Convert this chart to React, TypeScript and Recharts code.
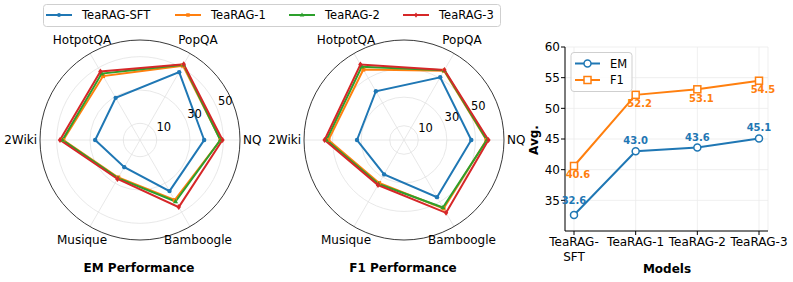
import {
  RadarChart,
  PolarGrid,
  PolarAngleAxis,
  PolarRadiusAxis,
  Radar,
  LineChart,
  Line,
  XAxis,
  YAxis,
  CartesianGrid,
} from "recharts";

const BLUE = "#1f77b4";
const ORANGE = "#ff7f0e";
const GREEN = "#2ca02c";
const RED = "#d62728";

const datasets = ["NQ", "PopQA", "HotpotQA", "2Wiki", "Musique", "Bamboogle"];
const models = ["TeaRAG-SFT", "TeaRAG-1", "TeaRAG-2", "TeaRAG-3"];
const modelTicks = ["TeaRAG-\nSFT", "TeaRAG-1", "TeaRAG-2", "TeaRAG-3"];

// EM per dataset
const emSft = [38.5, 47.0, 29.2, 26.9, 18.8, 35.4];
const emR1 = [48.3, 51.5, 44.3, 46.0, 26.0, 41.6];
const emR2 = [48.2, 52.2, 46.0, 46.5, 26.4, 42.6];
const emR3 = [49.5, 52.5, 47.5, 48.0, 27.0, 46.5];

// F1 per dataset
const f1Sft = [47.1, 50.7, 39.4, 32.9, 27.8, 46.2];
const f1R1 = [57.7, 56.0, 56.9, 52.9, 34.8, 55.4];
const f1R2 = [58.0, 56.3, 59.2, 54.3, 35.6, 54.5];
const f1R3 = [59.1, 56.6, 61.0, 55.6, 36.4, 58.9];

// averages
const avgEm = [32.6, 43.0, 43.6, 45.1];
const avgF1 = [40.6, 52.2, 53.1, 54.5];

const radarTicks = [10, 30, 50];

const keys = ["sft", "r1", "r2", "r3"];
const colors = [BLUE, ORANGE, GREEN, RED];
const markers = ["circle", "square", "triangle", "diamond"];

const emRows = datasets.map((name, i) => ({
  name,
  sft: emSft[i],
  r1: emR1[i],
  r2: emR2[i],
  r3: emR3[i],
}));

const f1Rows = datasets.map((name, i) => ({
  name,
  sft: f1Sft[i],
  r1: f1R1[i],
  r2: f1R2[i],
  r3: f1R3[i],
}));

const avgRows = models.map((model, i) => ({
  model: modelTicks[i],
  em: avgEm[i],
  f1: avgF1[i],
}));

function Marker({ kind, x, y, color, s = 4 }: any) {
  if (kind === "circle") return <circle cx={x} cy={y} r={s * 0.55} fill={color} />;
  if (kind === "square")
    return <rect x={x - s / 2} y={y - s / 2} width={s} height={s} fill={color} />;
  if (kind === "triangle")
    return (
      <polygon
        points={`${x},${y - s * 0.7} ${x - s * 0.65},${y + s * 0.45} ${x + s * 0.65},${y + s * 0.45}`}
        fill={color}
      />
    );
  return (
    <polygon
      points={`${x},${y - s * 0.75} ${x + s * 0.55},${y} ${x},${y + s * 0.75} ${x - s * 0.55},${y}`}
      fill={color}
    />
  );
}

const R = 100;
const CX = 140;
const CY = 140;

// category labels follow the data order, counter-clockwise from 3 o'clock
function angleTick(props: any) {
  const { payload } = props;
  const idx = datasets.indexOf(payload.value);
  const a = (idx * 2 * Math.PI) / datasets.length;
  const c = Math.cos(a);
  const s = -Math.sin(a);
  if (Math.abs(c) > 0.99) {
    return (
      <text
        x={CX + c * (R + 3)}
        y={CY}
        textAnchor={c > 0 ? "start" : "end"}
        dominantBaseline="central"
        fontSize={12}
        fill="#000"
      >
        {payload.value}
      </text>
    );
  }
  return (
    <text
      x={CX + c * (R + 16)}
      y={CY + s * (R + 16)}
      textAnchor="middle"
      dominantBaseline="central"
      fontSize={12}
      fill="#000"
    >
      {payload.value}
    </text>
  );
}

function radiusTick(props: any) {
  const { x, y, payload } = props;
  if (!radarTicks.includes(payload.value)) return <g />;
  return (
    <text x={x + 1} y={y - 3} textAnchor="start" fontSize={11.5} fill="#000">
      {payload.value}
    </text>
  );
}

function PerfRadar({ rows, max, left }: any) {
  return (
    <div style={{ position: "absolute", left, top: 0 }}>
      <RadarChart
        width={280}
        height={282}
        data={rows}
        cx={CX}
        cy={CY}
        outerRadius={R}
        startAngle={-60}
        endAngle={300}
        margin={{ top: 0, right: 0, bottom: 0, left: 0 }}
      >
        <PolarGrid
          gridType="circle"
          polarRadius={radarTicks.map((v) => (v / max) * R)}
          stroke="#e2e2e2"
          strokeWidth={0.8}
        />
        <PolarAngleAxis
          dataKey="name"
          axisLineType="circle"
          axisLine={{ stroke: "#222", strokeWidth: 0.9 }}
          tickLine={false}
          tick={angleTick}
        />
        <PolarRadiusAxis
          angle={22.5}
          domain={[0, max]}
          tickCount={max / 10 + 1}
          axisLine={false}
          tickLine={false}
          tick={radiusTick}
        />
        {keys.map((k, i) => (
          <Radar
            key={k}
            dataKey={k}
            stroke={colors[i]}
            strokeWidth={2}
            fill="none"
            fillOpacity={0}
            isAnimationActive={false}
            dot={(p: any) => (
              <Marker key={`${k}-${p.index}`} kind={markers[i]} x={p.cx} y={p.cy} color={colors[i]} />
            )}
          />
        ))}
      </RadarChart>
    </div>
  );
}

function ModelTick(props: any) {
  const { x, y, payload } = props;
  const lines = String(payload.value).split("\n");
  return (
    <text x={x} y={y + 9} textAnchor="middle" fontSize={12} fill="#000">
      {lines.map((l, i) => (
        <tspan key={i} x={x} dy={i === 0 ? 0 : 15}>
          {l}
        </tspan>
      ))}
    </text>
  );
}

function emLabel(p: any) {
  const off = p.index === 0 ? 14.5 : 10.5;
  return (
    <text
      key={`em-${p.index}`}
      x={p.x}
      y={p.y - off}
      textAnchor="middle"
      dominantBaseline="central"
      fontSize={10}
      fontWeight="bold"
      fill={BLUE}
    >
      {Number(p.value).toFixed(1)}
    </text>
  );
}

function f1Label(p: any) {
  return (
    <text
      key={`f1-${p.index}`}
      x={p.x + 4}
      y={p.y + 9}
      textAnchor="middle"
      dominantBaseline="central"
      fontSize={10}
      fontWeight="bold"
      fill={ORANGE}
    >
      {Number(p.value).toFixed(1)}
    </text>
  );
}

export default function App() {
  return (
    <div
      style={{
        position: "absolute",
        left: 0,
        top: 0,
        width: 793,
        height: 282,
        background: "#fff",
        fontFamily: "DejaVu Sans",
        overflow: "hidden",
      }}
    >
      <PerfRadar rows={emRows} max={60} left={0} />
      <PerfRadar rows={f1Rows} max={70} left={264} />

      <div style={{ position: "absolute", left: 530, top: 0 }}>
        <LineChart
          width={263}
          height={282}
          data={avgRows}
          margin={{ top: 47, right: 25, bottom: 21, left: 5 }}
        >
          <CartesianGrid stroke="#ebebeb" strokeWidth={0.8} />
          <XAxis
            dataKey="model"
            interval={0}
            padding={{ left: 9, right: 9 }}
            height={30}
            tickSize={4}
            stroke="#000"
            tick={ModelTick}
          />
          <YAxis
            domain={[30, 60]}
            ticks={[35, 40, 45, 50, 55, 60]}
            width={30}
            tickSize={4}
            tickMargin={1}
            stroke="#000"
            tick={{ fill: "#000", fontSize: 12 }}
          />
          <Line
            dataKey="em"
            stroke={BLUE}
            strokeWidth={2}
            isAnimationActive={false}
            dot={{ r: 3.5, fill: "#fff", stroke: BLUE, strokeWidth: 1.5 }}
            label={emLabel}
          />
          <Line
            dataKey="f1"
            stroke={ORANGE}
            strokeWidth={2}
            isAnimationActive={false}
            dot={(p: any) => (
              <rect
                key={`sq-${p.index}`}
                x={p.cx - 3.5}
                y={p.cy - 3.5}
                width={7}
                height={7}
                fill="#fff"
                stroke={ORANGE}
                strokeWidth={1.5}
              />
            )}
            label={f1Label}
          />
        </LineChart>
      </div>

      <svg
        width={793}
        height={282}
        style={{ position: "absolute", left: 0, top: 0, pointerEvents: "none" }}
      >
        <rect x={43.5} y={4.5} width={457} height={22} rx={3} fill="#fff" stroke="#cfcfcf" />
        {models.map((m, i) => {
          const lx = [46, 175, 289, 403][i];
          return (
            <g key={m}>
              <line x1={lx} x2={lx + 26} y1={15} y2={15} stroke={colors[i]} strokeWidth={2} />
              <Marker kind={markers[i]} x={lx + 13} y={15} color={colors[i]} s={3.5} />
              <text x={lx + 36} y={15} dominantBaseline="central" fontSize={11.5} fill="#000">
                {m}
              </text>
            </g>
          );
        })}

        <rect x={571} y={52.5} width={61} height={39} rx={3} fill="#fff" fillOpacity={0.85} stroke="#cfcfcf" />
        <line x1={575} x2={600} y1={63.5} y2={63.5} stroke={BLUE} strokeWidth={2} />
        <circle cx={587.5} cy={63.5} r={3.5} fill="#fff" stroke={BLUE} strokeWidth={1.5} />
        <text x={610} y={63.5} dominantBaseline="central" fontSize={11.5} fill="#000">
          EM
        </text>
        <line x1={575} x2={600} y1={80} y2={80} stroke={ORANGE} strokeWidth={2} />
        <rect x={584} y={76.5} width={7} height={7} fill="#fff" stroke={ORANGE} strokeWidth={1.5} />
        <text x={610} y={80} dominantBaseline="central" fontSize={11.5} fill="#000">
          F1
        </text>

        <text x={139} y={268} textAnchor="middle" dominantBaseline="central" fontSize={12} fontWeight="bold">
          EM Performance
        </text>
        <text x={403} y={268} textAnchor="middle" dominantBaseline="central" fontSize={12} fontWeight="bold">
          F1 Performance
        </text>
        <text x={667} y={269} textAnchor="middle" dominantBaseline="central" fontSize={12} fontWeight="bold">
          Models
        </text>
        <text
          x={534}
          y={140}
          textAnchor="middle"
          dominantBaseline="central"
          fontSize={12}
          fontWeight="bold"
          transform="rotate(-90 534 140)"
        >
          Avg.
        </text>
      </svg>
    </div>
  );
}
